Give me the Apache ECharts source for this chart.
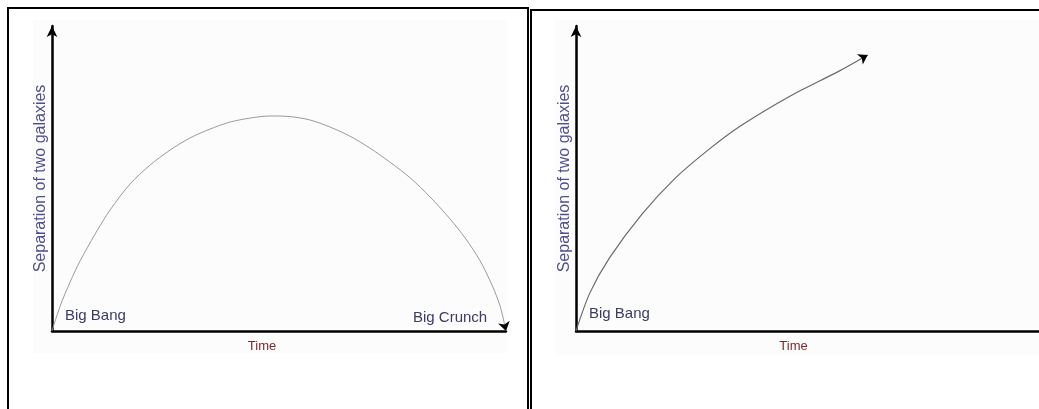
<!DOCTYPE html>
<html>
<head>
<meta charset="utf-8">
<script src="https://cdn.jsdelivr.net/npm/echarts@6/dist/echarts.min.js"></script>
<style>
  html, body { margin: 0; padding: 0; background: #fff; }
  #chart { width: 1039px; height: 409px; }
</style>
</head>
<body>
<div id="chart"></div>
<script>
// closed universe: expands then collapses (time, separation)
const closedTime = [0, 1.8, 4.0, 6.2, 9.5, 12.8, 17.2, 21.6, 26.0, 30.4, 34.8, 39.2, 43.6, 48.0,
  52.4, 56.8, 61.2, 65.6, 70.0, 74.4, 78.9, 83.3, 87.7, 91.0, 94.3, 96.9, 98.7, 100];
const closedSep = [0, 8.2, 16.1, 23.0, 31.8, 39.7, 48.2, 54.4, 59.3, 63.3, 66.2, 68.5, 69.8, 70.5,
  70.3, 69.2, 66.9, 63.9, 60.0, 55.4, 50.2, 43.9, 36.7, 30.5, 23.0, 15.1, 8.2, 0];
// open universe: keeps expanding
const openTime = [0, 3.0, 7.2, 14.3, 21.5, 28.5, 35.5, 46.2, 56.8, 63.0];
const openSep  = [0, 12.5, 23.9, 38.4, 50.2, 59.3, 67.2, 77.0, 85.2, 90.5];

const xName = 'Time';
const yName = 'Separation of two galaxies';
const startLabel = 'Big Bang';
const endLabel = 'Big Crunch';

const font = 'Liberation Sans, Arial, sans-serif';

function pairs(xs, ys) {
  return xs.map((x, i) => [x, ys[i]]);
}

// last segment of the curve, only used to place the arrow head
function arrowTail(xs, ys) {
  const n = xs.length;
  return [[{ coord: [xs[n - 2], ys[n - 2]] }, { coord: [xs[n - 1], ys[n - 1]] }]];
}

function xAxis(idx, shift) {
  return {
    type: 'value', gridIndex: idx, min: 0, max: 100,
    name: xName, nameLocation: 'middle', nameGap: 9,
    nameTextStyle: { color: '#7a2a30', fontSize: 13, fontFamily: font, padding: [0, shift, 0, 0] },
    axisLine: { show: true, lineStyle: { color: '#000', width: 2.5 } },
    axisTick: { show: false }, axisLabel: { show: false }, splitLine: { show: false }
  };
}

function yAxis(idx) {
  return {
    type: 'value', gridIndex: idx, min: 0, max: 100,
    name: yName, nameLocation: 'middle', nameGap: 3,
    nameTextStyle: { color: '#50508e', fontSize: 16, fontFamily: font },
    axisLine: {
      show: true, symbol: ['none', 'arrow'], symbolSize: [8, 11],
      lineStyle: { color: '#000', width: 2.5 }
    },
    axisTick: { show: false }, axisLabel: { show: false }, splitLine: { show: false }
  };
}

function curve(idx, xs, ys, color, w) {
  return {
    type: 'line', xAxisIndex: idx, yAxisIndex: idx,
    data: pairs(xs, ys), smooth: 0.3, showSymbol: false, silent: true,
    lineStyle: { color: color, width: w },
    markLine: {
      silent: true, symbol: ['none', 'arrow'], symbolSize: 9,
      label: { show: false },
      lineStyle: { color: '#000', width: 0, type: 'solid' },
      data: arrowTail(xs, ys)
    }
  };
}

const chart = echarts.init(document.getElementById('chart'));
chart.setOption({
  animation: false,
  backgroundColor: '#fff',
  grid: [
    { left: 52, top: 26, width: 454, height: 305 },
    { left: 576, top: 26, width: 470, height: 305 }
  ],
  xAxis: [xAxis(0, 34), xAxis(1, 28)],
  yAxis: [yAxis(0), yAxis(1)],
  series: [
    curve(0, closedTime, closedSep, '#9a9a9a', 1),
    curve(1, openTime, openSep, '#6a6a6a', 1.2)
  ],
  graphic: [
    { type: 'rect', z: -10, shape: { x: 33, y: 20, width: 473, height: 333 }, style: { fill: '#fcfcfc' } },
    { type: 'rect', z: -10, shape: { x: 555, y: 20, width: 484, height: 335 }, style: { fill: '#fcfcfc' } },
    { type: 'rect', shape: { x: 8, y: 8, width: 520, height: 430 }, style: { fill: null, stroke: '#000', lineWidth: 2 } },
    { type: 'rect', shape: { x: 531, y: 10, width: 530, height: 430 }, style: { fill: null, stroke: '#000', lineWidth: 2 } },
    { type: 'text', x: 65, y: 316, style: { text: startLabel, fill: '#3b3b66', font: '15px ' + font, textVerticalAlign: 'middle' } },
    { type: 'text', x: 413, y: 318, style: { text: endLabel, fill: '#3b3b66', font: '15px ' + font, textVerticalAlign: 'middle' } },
    { type: 'text', x: 589, y: 314, style: { text: startLabel, fill: '#3b3b66', font: '15px ' + font, textVerticalAlign: 'middle' } }
  ]
});
</script>
</body>
</html>
